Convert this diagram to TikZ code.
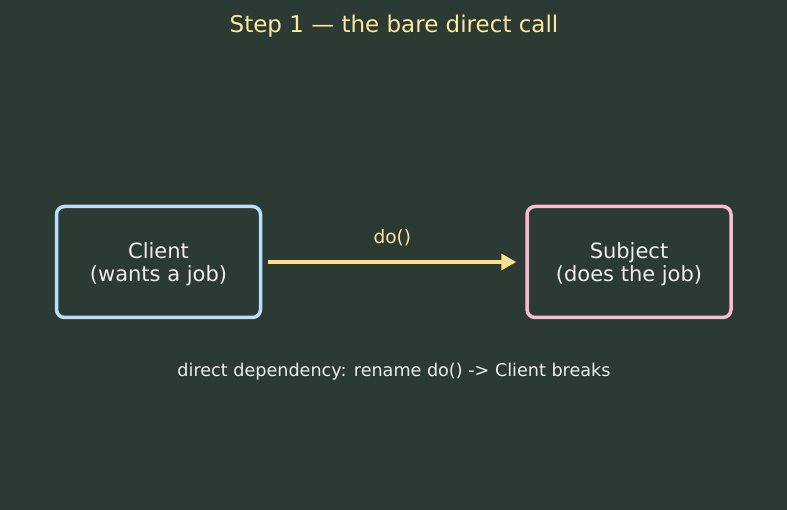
\documentclass[tikz,border=0pt]{standalone}
\usepackage{fontspec}
\setmainfont{DejaVu Sans}
\usetikzlibrary{arrows.meta}
\definecolor{bg}{HTML}{2B3B34}
\definecolor{clientc}{HTML}{BBDEFB}
\definecolor{subjc}{HTML}{F8BBD0}
\definecolor{arrc}{HTML}{FFE08A}
\definecolor{titlec}{HTML}{FFE8A0}
\definecolor{txtc}{HTML}{EEEEEE}
\tikzset{
  box/.style={draw, line width=3.5pt, rounded corners=8pt, minimum width=204pt, minimum height=111pt, inner sep=0pt},
  boxtext/.style={align=center, text=txtc, font=\fontsize{21}{23}\selectfont, inner sep=0pt},
}
\begin{document}
\begin{tikzpicture}[x=1pt,y=-1pt]
\fill[bg] (0,0) rectangle (787,510);
\useasboundingbox (0,0) rectangle (787,510);
\node[text=titlec, font=\fontsize{23}{27}\selectfont] (title) at (394,26) {Step 1 — the bare direct call};
\node[box, draw=clientc] (client) at (158.5,262) {};
\node[boxtext] (clienttxt) at ([yshift=-2pt]client.center) {Client\\(wants a job)};
\node[box, draw=subjc] (subject) at (629,262) {};
\node[boxtext] (subjecttxt) at ([yshift=-2pt]subject.center) {Subject\\(does the job)};
\draw[arrc, line width=3.5pt, -{Triangle[length=15pt,width=16pt]}] ([xshift=6pt]client.east) -- ([xshift=-9pt]subject.west) node[midway, above=11pt, text=titlec, font=\fontsize{18.5}{22}\selectfont] (call) {do()};
\node[text=txtc, font=\fontsize{17.6}{21}\selectfont] (note) at (394,372) {direct dependency: rename do() -> Client breaks};
\end{tikzpicture}
\end{document}
